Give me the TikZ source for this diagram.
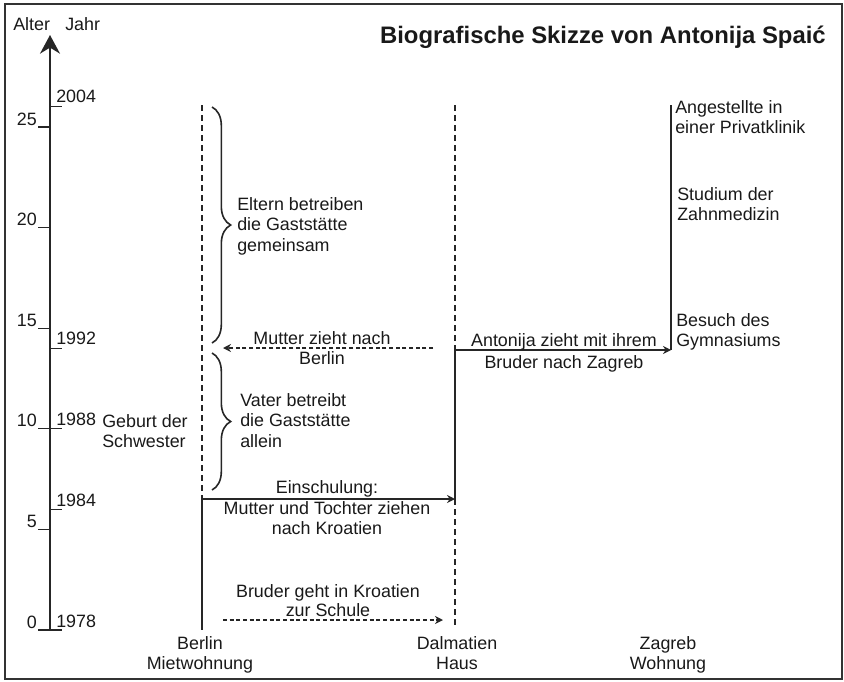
\documentclass[tikz,border=0pt]{standalone}
\usepackage{fontspec}
\setmainfont{Liberation Sans}
\usetikzlibrary{arrows.meta,decorations.pathreplacing}

\begin{document}
\begin{tikzpicture}[x=0.75pt,y=-0.75pt,
	font=\fontsize{13.4}{15.5}\selectfont,
	every node/.style={inner sep=0pt,text=black!90},
	life/.style={line width=1.3pt,black!85},
	stay/.style={line width=1.3pt,black!85,dash pattern=on 4.5pt off 3pt},
	move/.style={line width=0.9pt,black!85,-{Stealth[length=6pt,width=6pt]}},
	movedash/.style={move,dash pattern=on 3pt off 2pt},
	tick/.style={line width=0.8pt,black!85},
	phase/.style={line width=1.2pt,black!85,decorate,decoration={brace,amplitude=14pt}}]
	\useasboundingbox (0,0) rectangle (844,682);
	% frame
	\draw[line width=1.1pt,black!80] (5,4) rectangle (842,679);
	
	% title
	\node[anchor=base east,font=\fontsize{17.9}{20}\selectfont\bfseries] (title) at (826,43) {Biografische Skizze von Antonija Spaić};
	\node[anchor=base west] (alter) at (13,30) {Alter};
	\node[anchor=base west] (jahr) at (65,30) {Jahr};
	
	% axis
	\coordinate (a0) at (50,630);
	\coordinate (atop) at (50,35);
	\draw[line width=1.3pt,black!85,-{Stealth[length=14pt,width=15pt]}] (a0) -- (atop);
	
	% ages
	\draw[tick] (38,630) -- (50,630);
	\draw[tick] (38,529.4) -- (50,529.4);
	\draw[tick] (38,428.8) -- (50,428.8);
	\draw[tick] (38,328.2) -- (50,328.2);
	\draw[tick] (38,227.6) -- (50,227.6);
	\draw[tick] (38,127) -- (50,127);
	\node[anchor=base east] (age0) at (37,628) {0};
	\node[anchor=base east] (age5) at (37,527.4) {5};
	\node[anchor=base east] (age10) at (37,426.8) {10};
	\node[anchor=base east] (age15) at (37,326.2) {15};
	\node[anchor=base east] (age20) at (37,225.6) {20};
	\node[anchor=base east] (age25) at (37,125) {25};
	
	% years
	\draw[tick] (50,630) -- (62,630);
	\draw[tick] (50,509.3) -- (62,509.3);
	\draw[tick] (50,428.8) -- (62,428.8);
	\draw[tick] (50,348.3) -- (62,348.3);
	\draw[tick] (50,106.9) -- (62,106.9);
	\node[anchor=base west] (y1978) at (56,627) {1978};
	\node[anchor=base west] (y1984) at (56,506.3) {1984};
	\node[anchor=base west] (y1988) at (56,425.8) {1988};
	\node[anchor=base west] (y1992) at (56,344.8) {1992};
	\node[anchor=base west] (y2004) at (56,102.4) {2004};
	
	% places
	\node[anchor=north,align=center] (berlin) at (200,636) {Berlin\\Mietwohnung};
	\node[anchor=north,align=center] (dalm) at (457,636) {Dalmatien\\Haus};
	\node[anchor=north,align=center] (zagreb) at (668,636) {Zagreb\\Wohnung};
	
	\coordinate (b0) at (202,105);
	\coordinate (b1) at (202,499);
	\coordinate (b2) at (202,630);
	\coordinate (d0) at (455,105);
	\coordinate (d1) at (455,350);
	\coordinate (d2) at (455,499);
	\coordinate (d3) at (455,625);
	\coordinate (z0) at (671,105);
	\coordinate (z1) at (671,350);
	\draw[stay] (b0) -- (b1);
	\draw[life] (b1) -- (b2);
	\draw[stay] (d0) -- (d1);
	\draw[life] (d1) -- (d2);
	\draw[stay] (d2) -- (d3);
	\draw[life] (z0) -- (z1);
	
	% moves
	\coordinate (m0) at (433,348);
	\coordinate (m1) at (223,348);
	\coordinate (s0) at (223,620);
	\coordinate (s1) at (443,620);
	\draw[move] (b1) -- (d2);
	\draw[move] (d1) -- (z1);
	\draw[movedash] (m0) -- (m1);
	\draw[movedash] (s0) -- (s1);
	\node[anchor=base] (ein1) at (327,493) {Einschulung:};
	\node[anchor=base] (ein2) at (327,514) {Mutter und Tochter ziehen};
	\node[anchor=base] (ein3) at (327,534) {nach Kroatien};
	\node[anchor=base] (ant1) at (564,346) {Antonija zieht mit ihrem};
	\node[anchor=base] (ant2) at (564,368) {Bruder nach Zagreb};
	\node[anchor=base] (mut1) at (322,344) {Mutter zieht nach};
	\node[anchor=base] (mut2) at (322,364) {Berlin};
	\node[anchor=base] (bru1) at (328,597) {Bruder geht in Kroatien};
	\node[anchor=base] (bru2) at (328,616) {zur Schule};
	
	% braces
	\coordinate (e0) at (212,107);
	\coordinate (e1) at (212,343);
	\coordinate (v0) at (212,353);
	\coordinate (v1) at (212,490);
	\draw[phase] (e0) -- (e1);
	\draw[phase] (v0) -- (v1);
	\node[anchor=north west,align=left] (eltern) at (237,197) {Eltern betreiben\\die Gaststätte\\gemeinsam};
	\node[anchor=north west,align=left] (vater) at (240,393) {Vater betreibt\\die Gaststätte\\allein};
	\node[anchor=north west,align=left] (geburt) at (102,414) {Geburt der\\Schwester};
	
	% Zagreb
	\node[anchor=north west,align=left] (klinik) at (675,100) {Angestellte in\\einer Privatklinik};
	\node[anchor=north west,align=left] (studium) at (677,187) {Studium der\\Zahnmedizin};
	\node[anchor=north west,align=left] (gymn) at (676,313) {Besuch des\\Gymnasiums};
\end{tikzpicture}
\end{document}
